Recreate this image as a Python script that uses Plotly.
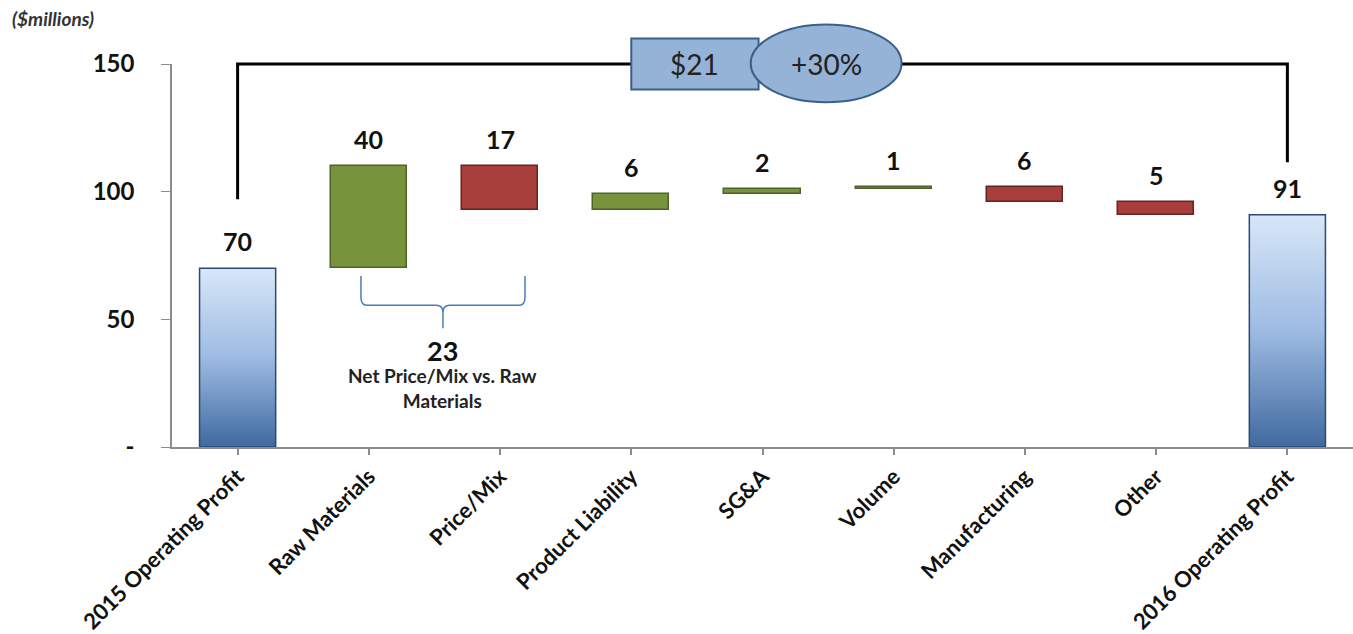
import plotly.graph_objects as go

# ---------------- data ----------------
categories = ["2015 Operating Profit", "Raw Materials", "Price/Mix", "Product Liability",
              "SG&A", "Volume", "Manufacturing", "Other", "2016 Operating Profit"]
start_total = 70
end_total = 91
deltas = [40, -17, 6, 2, 1, -6, -5]          # Raw Materials .. Other
y_tickvals = [0, 50, 100, 150]
y_ticktext = ["-", "50", "100", "150"]
net_price_mix = deltas[0] + deltas[1]        # 23
bracket_label = "Net Price/Mix vs. Raw<br>Materials"
unit_label = "($millions)"

# ---------------- style ----------------
FONT = "Lato"
W, H = 1353, 634
ML, MR, MT, MB = 172, 0, 64, 184
XMIN, XMAX = -0.5, len(categories) - 0.5
YMIN, YMAX = 0, 150
BAR_W = 0.58
GREEN, GREEN_EDGE = "#77933c", "#4f6228"
RED, RED_EDGE = "#a83e3b", "#632523"
BLUE_EDGE = "#2a4a75"
BLUE_SCALE = [[0, "#40699f"], [0.5, "#9dbbe2"], [1, "#d8e7f8"]]
BOX_FILL, BOX_LINE = "#95b3d7", "#3a5f8b"
PLOT_W, PLOT_H = W - ML - MR, H - MT - MB

def px(xv):
    return (xv - XMIN) / (XMAX - XMIN)

def py(yv):
    return (yv - YMIN) / (YMAX - YMIN)

fig = go.Figure()

# totals as gradient-filled bars
for idx, val in [(0, start_total), (len(categories) - 1, end_total)]:
    x0, x1 = idx - BAR_W / 2, idx + BAR_W / 2
    fig.add_trace(go.Scatter(
        x=[x0, x1, x1, x0, x0], y=[0, 0, val, val, 0],
        mode="lines", fill="toself",
        line=dict(color=BLUE_EDGE, width=1.5),
        fillgradient=dict(type="vertical", colorscale=BLUE_SCALE),
        hoverinfo="skip", showlegend=False))

# floating delta bars
bases, heights, fills, edges, tops = [], [], [], [], []
level = start_total
for d in deltas:
    bases.append(level)
    heights.append(d)
    fills.append(GREEN if d > 0 else RED)
    edges.append(GREEN_EDGE if d > 0 else RED_EDGE)
    tops.append(max(level, level + d))
    level += d

fig.add_trace(go.Bar(
    x=list(range(1, len(deltas) + 1)), y=heights, base=bases, width=BAR_W,
    marker=dict(color=fills, line=dict(color=edges, width=1.5)),
    hoverinfo="skip", showlegend=False))

# value labels
label_tops = [start_total] + tops + [end_total]
label_vals = [start_total] + [abs(d) for d in deltas] + [end_total]
for i, (t, v) in enumerate(zip(label_tops, label_vals)):
    fig.add_annotation(x=i, y=t, text=str(v), showarrow=False, yanchor="middle",
                       yshift=27, font=dict(family=FONT, size=25, color="#111", weight="bold"))

# top connector
last = len(categories) - 1
fig.add_shape(type="path", xref="paper", yref="paper",
              path=f"M {px(0)},{py(start_total + 27)} L {px(0)},{py(YMAX)} "
                   f"L {px(last)},{py(YMAX)} L {px(last)},{py(end_total + 20.5)}",
              line=dict(color="black", width=3))

mid = last / 2
change = end_total - start_total
pct = round(change / start_total * 100)
fig.add_shape(type="rect", xref="paper", yref="paper",
              x0=px(mid - 1.0), x1=px(mid - 0.03), y0=py(YMAX - 10), y1=py(YMAX + 10),
              fillcolor=BOX_FILL, line=dict(color=BOX_LINE, width=2))
fig.add_shape(type="circle", xref="paper", yref="paper",
              x0=px(mid - 0.09), x1=px(mid + 1.06), y0=py(YMAX - 15), y1=py(YMAX + 15.5),
              fillcolor=BOX_FILL, line=dict(color=BOX_LINE, width=2))
fig.add_annotation(xref="paper", yref="paper", x=px(mid - 0.515), y=py(YMAX),
                   text=f"${change}", showarrow=False, xanchor="center", yanchor="middle",
                   font=dict(family=FONT, size=28, color="#222"))
fig.add_annotation(xref="paper", yref="paper", x=px(mid + 0.485), y=py(YMAX),
                   text=f"+{pct}%", showarrow=False, xanchor="center", yanchor="middle",
                   font=dict(family=FONT, size=28, color="#222"))

# bracket for net price/mix vs raw materials
bx0, bx1 = 0.94, 2.19
bxc = (bx0 + bx1) / 2
byt, byh, byp = 67, 55.5, 46.5
r = 0.05
fig.add_shape(type="path", xref="x", yref="y",
              path=(f"M {bx0},{byt} L {bx0},{byh + 3} Q {bx0},{byh} {bx0 + r},{byh} "
                    f"L {bxc - r},{byh} Q {bxc},{byh} {bxc},{byh - 3} L {bxc},{byp} "
                    f"M {bxc},{byh - 3} Q {bxc},{byh} {bxc + r},{byh} "
                    f"L {bx1 - r},{byh} Q {bx1},{byh} {bx1},{byh + 3} L {bx1},{byt}"),
              line=dict(color="#4a7ebb", width=1.5))
fig.add_annotation(x=bxc, y=byp, text=str(net_price_mix), showarrow=False, yanchor="top",
                   yshift=-4, font=dict(family=FONT, size=27, color="#111", weight="bold"))
fig.add_annotation(x=bxc, y=byp, text=bracket_label, showarrow=False, yanchor="top",
                   yshift=-34, font=dict(family=FONT, size=19, color="#222", weight="bold"))

fig.add_annotation(xref="paper", yref="paper", x=-162 / PLOT_W, y=1 + 46 / PLOT_H,
                   text=unit_label, showarrow=False, xanchor="left", yanchor="middle",
                   font=dict(family=FONT, size=19, color="#333", weight="bold", style="italic"))

fig.update_layout(
    width=W, height=H, margin=dict(l=ML, r=MR, t=MT, b=MB),
    plot_bgcolor="white", paper_bgcolor="white", bargap=0,
    xaxis=dict(range=[XMIN, XMAX], tickvals=list(range(len(categories))), ticktext=categories,
               tickangle=-45, showgrid=False, zeroline=False, showline=True,
               linecolor="#8c8c8c", linewidth=2, ticks="outside", ticklen=6,
               tickcolor="#8c8c8c", tickwidth=1.5,
               tickfont=dict(family=FONT, size=22, color="#111", weight="bold")),
    yaxis=dict(range=[YMIN, YMAX], tickvals=y_tickvals, ticktext=y_ticktext,
               showgrid=False, zeroline=False, showline=True, linecolor="#8c8c8c",
               linewidth=1.5, ticks="outside", ticklen=9, tickcolor="#8c8c8c",
               ticklabelstandoff=22,
               tickfont=dict(family=FONT, size=24, color="#111", weight="bold")),
)

fig.write_html("out.html")
